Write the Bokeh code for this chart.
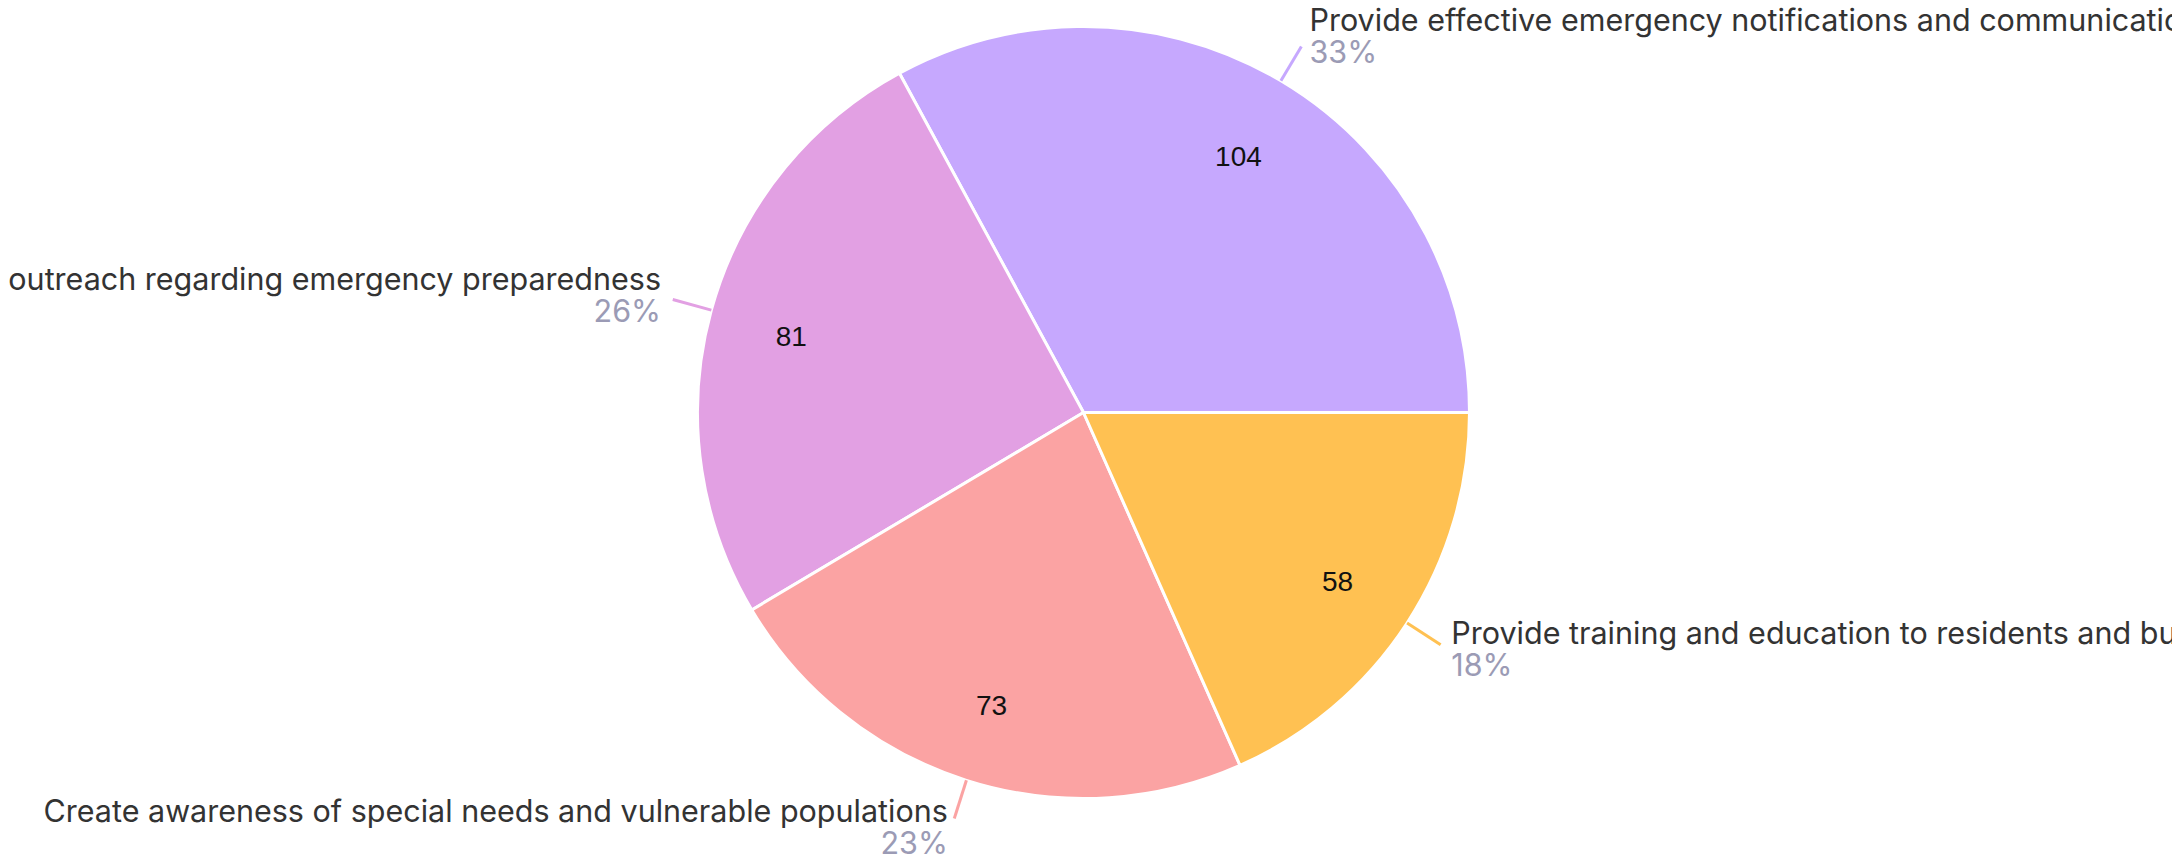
import numpy as np
from bokeh.plotting import figure
from bokeh.models import Range1d, ColumnDataSource
from bokeh.core.properties import value
from bokeh.embed import file_html
from bokeh.resources import INLINE

# ---- data ----
categories = [
    "Provide effective emergency notifications and communications",
    "outreach regarding emergency preparedness",
    "Create awareness of special needs and vulnerable populations",
    "Provide training and education to residents and businesses",
]
counts = [104, 81, 73, 58]
colors = ["#C6A8FE", "#E2A0E3", "#FBA3A3", "#FFC152"]

# ---- layout (screen-pixel-like data space) ----
W, H = 2172, 858
CX, CY = 1083, 858 - 412
R = 386
FONT = "Inter"
NUM_FONT = "Liberation Sans"

vals = np.array(counts, dtype=float)
frac = vals / vals.sum()
ends = 2 * np.pi * np.cumsum(frac)
starts = ends - 2 * np.pi * frac
mid = (starts + ends) / 2
cosm, sinm = np.cos(mid), np.sin(mid)

lx0 = CX + R * cosm
ly0 = CY + R * sinm
lx1 = CX + (R + 40) * cosm
ly1 = CY + (R + 40) * sinm
gap = 4 + 8 * np.abs(cosm)
tx = lx1 + np.sign(cosm) * gap
align = ["left" if c > 0 else "right" for c in cosm]
ty_name = ly1 + 18 + 10.5 * sinm
ty_pct = ty_name - 32

src = ColumnDataSource(dict(
    cat=categories,
    count=[str(c) for c in counts],
    pct=[f"{round(f * 100)}%" for f in frac],
    color=colors,
    start=starts, end=ends,
    ix=CX + 0.785 * R * cosm, iy=CY + 0.785 * R * sinm - 4,
    lx0=lx0, ly0=ly0, lx1=lx1, ly1=ly1,
    tx=tx, align=align, ty_name=ty_name, ty_pct=ty_pct,
))

p = figure(width=W, height=H, output_backend="svg", toolbar_location=None,
           x_range=Range1d(0, W), y_range=Range1d(858 - H, 858),
           min_border=0, outline_line_color=None, background_fill_color="white",
           border_fill_color="white")
p.axis.visible = False
p.grid.visible = False

p.wedge(x=CX, y=CY, radius=R, start_angle="start", end_angle="end",
        fill_color="color", line_color="white", line_width=3, source=src)

p.segment(x0="lx0", y0="ly0", x1="lx1", y1="ly1", line_color="color",
          line_width=3, source=src)

p.text(x="ix", y="iy", text="count", text_align="center", text_baseline="middle",
       text_font=value(NUM_FONT), text_font_size="28px", text_color="#111111", source=src)

p.text(x="tx", y="ty_name", text="cat", text_align="align", text_baseline="alphabetic",
       text_font=value(FONT), text_font_size="30.5px", text_color="#333333", source=src)

p.text(x="tx", y="ty_pct", text="pct", text_align="align", text_baseline="alphabetic",
       text_font=value(FONT), text_font_size="30.5px", text_color="#9B9BB5", source=src)

open("out.html", "w").write(file_html(p, INLINE))
